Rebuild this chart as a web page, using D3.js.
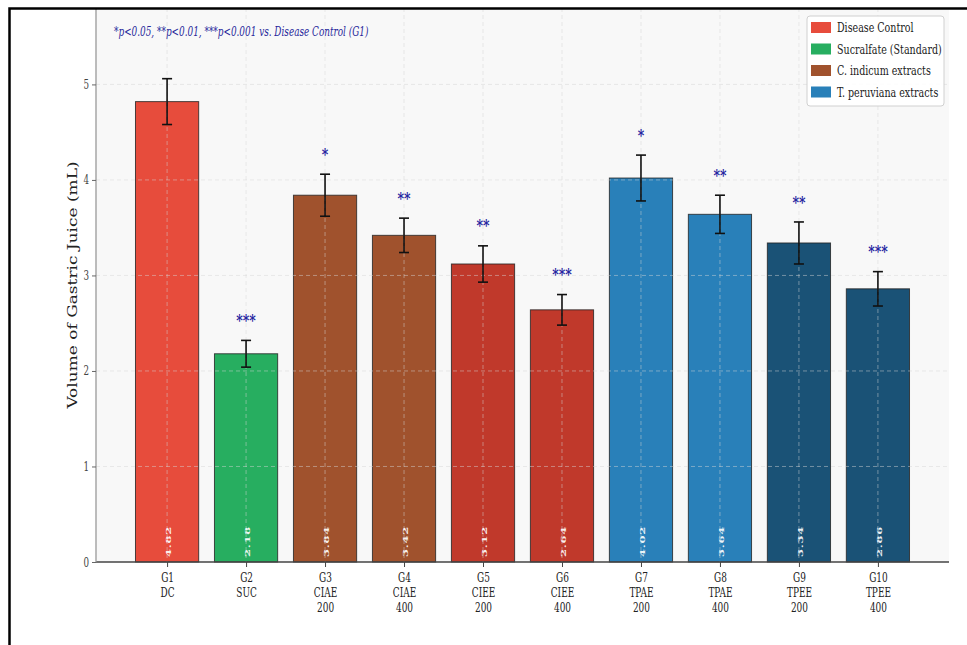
<!DOCTYPE html>
<html>
<head>
<meta charset="utf-8">
<script src="https://cdn.jsdelivr.net/npm/d3@7/dist/d3.min.js"></script>
<style>
  body { margin: 0; background: #fff; }
  text { font-family: "DejaVu Serif", "Liberation Serif", serif; }
</style>
</head>
<body>
<svg id="chart" width="967" height="645"></svg>
<script>
// group labels (multi-line tick labels)
var groupLines = [["G1","DC"],["G2","SUC"],["G3","CIAE","200"],["G4","CIAE","400"],["G5","CIEE","200"],
                  ["G6","CIEE","400"],["G7","TPAE","200"],["G8","TPAE","400"],["G9","TPEE","200"],["G10","TPEE","400"]];
var means = [4.82, 2.18, 3.84, 3.42, 3.12, 2.64, 4.02, 3.64, 3.34, 2.86];
var errs  = [0.24, 0.14, 0.22, 0.18, 0.19, 0.16, 0.24, 0.20, 0.22, 0.18];
var stars = ["", "***", "*", "**", "**", "***", "*", "**", "**", "***"];
var barColors = ["#e74c3c","#27ae60","#a0522d","#a0522d","#c0392b","#c0392b","#2980b9","#2980b9","#1a5276","#1a5276"];
var legendLabels = ["Disease Control","Sucralfate (Standard)","C. indicum extracts","T. peruviana extracts"];
var legendColors = ["#e74c3c","#27ae60","#a0522d","#2980b9"];
var yTicks = [0, 1, 2, 3, 4, 5];
var yMax = 5.8;
var note = "*p<0.05, **p<0.01, ***p<0.001 vs. Disease Control (G1)";
var yTitle = "Volume of Gastric Juice (mL)";

function draw() {
  var SX = 0.7; // the figure is squeezed horizontally
  var svg = d3.select("#chart");
  var left = 96, right = 949, top = 8, bottom = 562;

  var x = d3.scaleLinear().domain([-0.9, 9.9]).range([left, right]);
  var y = d3.scaleLinear().domain([0, yMax]).range([bottom, top]);
  var bw = x(0.4) - x(-0.4);

  // plot background
  svg.append("rect").attr("x", left).attr("y", top)
    .attr("width", right - left).attr("height", bottom - top)
    .attr("fill", "#f8f8f8");

  // bars
  svg.append("g").selectAll("rect")
    .data(means).enter().append("rect")
    .attr("x", (d, i) => x(i) - bw / 2)
    .attr("y", d => y(d))
    .attr("width", bw)
    .attr("height", d => y(0) - y(d))
    .attr("fill", (d, i) => barColors[i])
    .attr("stroke", "#222").attr("stroke-width", 1).attr("stroke-opacity", 0.8);

  // grid (drawn over the bars, like the original)
  var grid = svg.append("g").attr("stroke", "#d4d4d4").attr("stroke-opacity", 0.6)
    .attr("stroke-dasharray", "4,3").attr("stroke-width", 0.8);
  grid.selectAll(".gy").data(yTicks.slice(1)).enter().append("line")
    .attr("x1", left).attr("x2", right).attr("y1", d => y(d)).attr("y2", d => y(d));
  grid.selectAll(".gx").data(d3.range(means.length)).enter().append("line")
    .attr("x1", d => x(d)).attr("x2", d => x(d)).attr("y1", top).attr("y2", bottom);

  // error bars
  var eb = svg.append("g").attr("stroke", "#111").attr("stroke-width", 1.6);
  means.forEach(function(m, i) {
    var cx = x(i);
    eb.append("line").attr("x1", cx).attr("x2", cx).attr("y1", y(m + errs[i])).attr("y2", y(m - errs[i]));
    eb.append("line").attr("x1", cx - 5).attr("x2", cx + 5).attr("y1", y(m + errs[i])).attr("y2", y(m + errs[i]));
    eb.append("line").attr("x1", cx - 5).attr("x2", cx + 5).attr("y1", y(m - errs[i])).attr("y2", y(m - errs[i]));
  });

  // significance stars
  svg.append("g").selectAll("text").data(stars).enter().append("text")
    .attr("transform", (d, i) => `translate(${x(i)},${y(means[i] + errs[i]) - 20}) scale(0.78,1)`)
    .attr("text-anchor", "middle").attr("dominant-baseline", "central")
    .attr("fill", "#2424a0").attr("font-size", 16).attr("font-weight", "bold")
    .text(d => d);

  // value labels inside bars
  svg.append("g").selectAll("text").data(means).enter().append("text")
    .attr("transform", (d, i) => `translate(${x(i) + 3.8},${y(0) - 5}) rotate(-90) scale(1,${SX})`)
    .attr("text-anchor", "start")
    .attr("fill", "#fff").attr("fill-opacity", 0.92)
    .attr("font-size", 11.5).attr("font-weight", "bold").attr("letter-spacing", 0.8)
    .text(d => d.toFixed(2));

  // x axis
  var gx = svg.append("g").attr("transform", `translate(0,${bottom})`)
    .call(d3.axisBottom(x).tickValues(d3.range(means.length)).tickSize(5).tickSizeOuter(0));
  gx.select(".domain").attr("stroke", "#444").attr("stroke-width", 1.3)
    .attr("d", `M${left},0H${right}`);
  gx.selectAll(".tick line").attr("stroke", "#444");
  gx.selectAll(".tick text").each(function(d) {
    var t = d3.select(this).text("").attr("font-size", 12.8).attr("fill", "#222")
      .attr("y", 11).attr("transform", `scale(${SX},1)`);
    groupLines[d].forEach(function(s, k) {
      t.append("tspan").attr("x", 0).attr("dy", k === 0 ? "0.71em" : "1.15em").text(s);
    });
  });

  // y axis
  var gy = svg.append("g").attr("transform", `translate(${left},0)`)
    .call(d3.axisLeft(y).tickValues(yTicks).tickFormat(d3.format("d")).tickSize(4).tickSizeOuter(0));
  gy.select(".domain").attr("stroke", "#999").attr("stroke-width", 1.3)
    .attr("d", `M0,${top}V${bottom}`);
  gy.selectAll(".tick line").attr("stroke", "#666");
  gy.selectAll(".tick text").attr("font-size", 12.5).attr("fill", "#444")
    .attr("x", -7 / SX).attr("transform", `scale(${SX},1)`);

  // y title
  svg.append("text")
    .attr("transform", `translate(77,${(top + bottom) / 2}) rotate(-90) scale(1,0.8)`)
    .attr("text-anchor", "middle").attr("font-size", 17).attr("fill", "#222")
    .text(yTitle);

  // note
  svg.append("text")
    .attr("transform", `translate(114,36) scale(${SX},1)`)
    .attr("font-size", 12.7).attr("font-style", "italic").attr("fill", "#2a2a9c")
    .text(note);

  // legend
  var lg = svg.append("g").attr("transform", "translate(807,16)");
  lg.append("rect").attr("width", 137).attr("height", 90).attr("rx", 3)
    .attr("fill", "#fff").attr("fill-opacity", 0.9).attr("stroke", "#d0d0d0");
  legendLabels.forEach(function(s, i) {
    var ly = 11.5 + i * 21.5;
    lg.append("rect").attr("x", 4).attr("y", ly - 5.5).attr("width", 20).attr("height", 11)
      .attr("fill", legendColors[i]);
    lg.append("text").attr("transform", `translate(30,${ly}) scale(${SX},1)`)
      .attr("dominant-baseline", "central").attr("font-size", 13.6).attr("fill", "#222")
      .text(s);
  });

  // figure border
  svg.append("rect").attr("x", 9.5).attr("y", 8.5).attr("width", 980).attr("height", 660)
    .attr("fill", "none").attr("stroke", "#000").attr("stroke-width", 2.5);
}

window.onload = draw;
</script>
</body>
</html>
